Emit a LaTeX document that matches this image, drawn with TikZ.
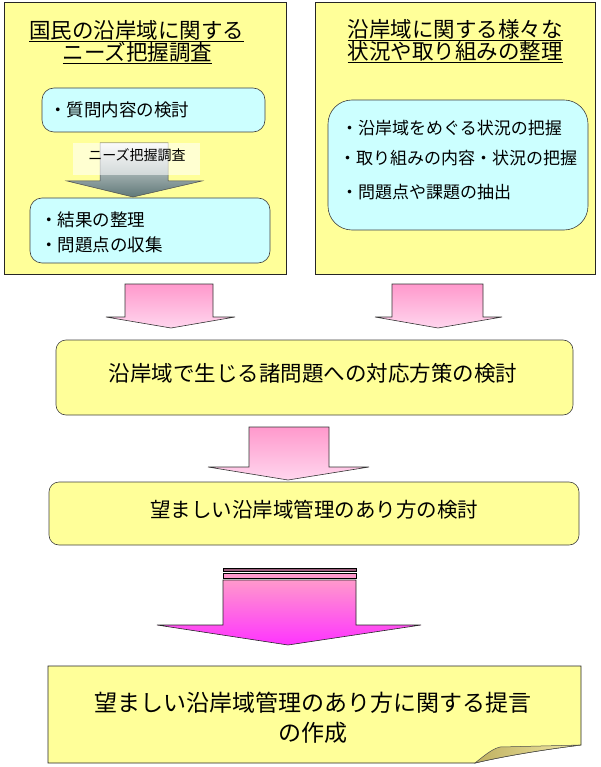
\documentclass[tikz,border=0pt]{standalone}
\usepackage{fontspec}
\setmainfont{Noto Sans CJK JP}
\usetikzlibrary{shapes.geometric}
\definecolor{ylw}{HTML}{FFFF99}
\definecolor{cyn}{HTML}{CCFFFF}
\definecolor{pinkA}{HTML}{FF99CC}
\definecolor{pinkB}{HTML}{FFD6EE}
\definecolor{magB}{HTML}{FF33FF}
\definecolor{foldA}{HTML}{BFB060}
\definecolor{foldB}{HTML}{F2EAA8}
\definecolor{grayB}{HTML}{5F7878}
\begin{document}
\begin{tikzpicture}[x=1pt,y=-1pt,
  outerbox/.style={draw=black!85, line width=0.8pt, fill=ylw, inner sep=0pt},
  innerbox/.style={draw=black!75, line width=0.6pt, fill=cyn, rounded corners=12pt, inner sep=0pt},
  stepbox/.style={draw=black!75, line width=0.6pt, fill=ylw, rounded corners=10pt, inner sep=0pt},
  titletext/.style={inner sep=0pt, font=\fontsize{21.5}{26}\selectfont},
  itemtext/.style={inner sep=0pt, anchor=west, font=\fontsize{17}{20}\selectfont},
  leftitem/.style={itemtext, font=\fontsize{17.5}{20}\selectfont},
  bigtext/.style={inner sep=0pt, font=\fontsize{21.5}{26}\selectfont},
  pinkarrow/.style={draw=black!80, line width=0.6pt, top color=pinkA, bottom color=pinkB},
]
\useasboundingbox (0,0) rectangle (600,767);

% ---- top left panel
\node[outerbox, minimum width=282, minimum height=272] (L) at (145,138) {};
\node[titletext] (Lt1) at (136.5,31) {\underline{国民の沿岸域に関する}};
\node[titletext] (Lt2) at (137.5,53) {\underline{ニーズ把握調査}};
\node[innerbox, minimum width=223, minimum height=44] (L1) at (153.5,110) {};
\node[leftitem] (L1a) at (49,110) {・質問内容の検討};
% gray arrow
\path[draw=black!70, line width=0.5pt, top color=white!92!gray, bottom color=grayB]
  (100,143) -- (168,143) -- (168,181) -- (202,181) -- (133,197) -- (67,181) -- (100,181) -- cycle;
\fill[white, opacity=0.55] (73,143) rectangle (200,175);
\node[inner sep=0pt, font=\fontsize{14}{16}\selectfont] (Lg) at (137,155) {ニーズ把握調査};
\node[innerbox, minimum width=240, minimum height=65] (L2) at (150,230.5) {};
\node[leftitem] (L2a) at (40,220) {・結果の整理};
\node[leftitem] (L2b) at (40,245) {・問題点の収集};

% ---- top right panel
\node[outerbox, minimum width=280, minimum height=272] (R) at (455,138) {};
\node[titletext] (Rt1) at (455,30) {\underline{沿岸域に関する様々な}};
\node[titletext] (Rt2) at (455,52) {\underline{状況や取り組みの整理}};
\node[innerbox, rounded corners=24pt, minimum width=260, minimum height=130] (R1) at (458,165) {};
\node[itemtext] (R1a) at (341,128) {・沿岸域をめぐる状況の把握};
\node[itemtext] (R1b) at (339,158) {・取り組みの内容・状況の把握};
\node[itemtext] (R1c) at (341,192) {・問題点や課題の抽出};

% ---- pink arrows to box 3
\path[pinkarrow] (125,284) -- (213,284) -- (213,317) -- (235,317) -- (171,328) -- (106,317) -- (125,317) -- cycle;
\path[pinkarrow] (392,284) -- (483,284) -- (483,317) -- (502,317) -- (438,328) -- (375,317) -- (392,317) -- cycle;

% ---- box 3
\node[stepbox, minimum width=517, minimum height=75] (B3) at (314.5,377.5) {};
\node[bigtext] (B3t) at (313,373) {沿岸域で生じる諸問題への対応方策の検討};

% ---- arrow 2
\path[pinkarrow] (249,427) -- (329,427) -- (329,467) -- (369,467) -- (288,480) -- (208,467) -- (249,467) -- cycle;

% ---- box 4
\node[stepbox, minimum width=530, minimum height=63] (B4) at (314,513.5) {};
\node[bigtext, font=\fontsize{20.5}{24}\selectfont] (B4t) at (314,510) {望ましい沿岸域管理のあり方の検討};

% ---- arrow 3 (magenta)
\path[draw=black, line width=0.6pt, fill=pinkA!60!black] (223,568) rectangle (356,571);
\path[draw=black, line width=0.6pt, fill=pinkA] (223,573) rectangle (356,578);
\path[draw=black!85, line width=0.6pt, top color=pinkA, bottom color=magB]
  (223,580) -- (356,580) -- (356,625) -- (421,625) -- (288,645) -- (157,625) -- (223,625) -- cycle;

% ---- box 5 (folded corner note)
\path[draw=black!85, line width=0.7pt, fill=ylw]
  (48,666) -- (581,666) -- (581,745) .. controls (540,750) and (500,757) .. (475,763) -- (48,763) -- cycle;
\path[draw=black!70, line width=0.5pt, left color=foldA, right color=foldB]
  (475,763) .. controls (485,755) and (492,749) .. (500,747) -- (581,745) .. controls (540,750) and (500,757) .. (475,763) -- cycle;
\node[inner sep=0pt, align=center, font=\fontsize{23}{30}\selectfont] (B5t) at (313,718) {望ましい沿岸域管理のあり方に関する提言\\の作成};
\end{tikzpicture}
\end{document}
